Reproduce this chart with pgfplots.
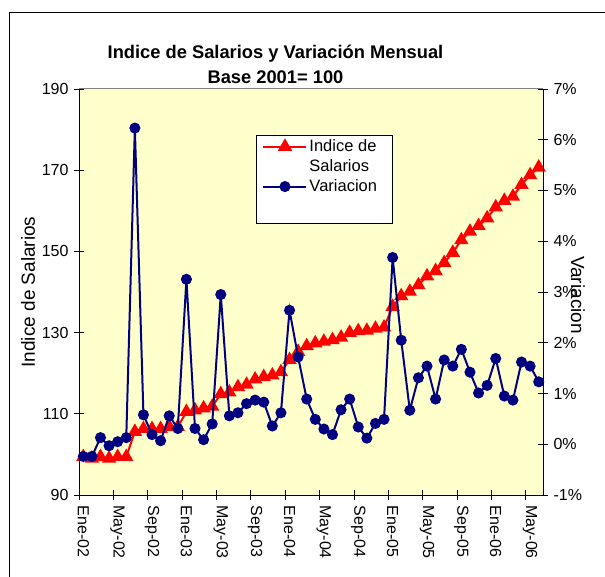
\documentclass[border=0pt]{standalone}
\usepackage{fontspec}
\setmainfont{Liberation Sans}
\usepackage{pgfplots}
\pgfplotsset{compat=1.18}
\definecolor{plotbg}{RGB}{255,255,204}
\definecolor{varblue}{RGB}{0,0,128}

\pgfplotstableread{
idx indice variacion
0  99.4 -0.24
1  99.0 -0.24
2  99.4  0.13
3  99.0 -0.03
4  99.4  0.05
5  99.4  0.13
6  105.6 6.23
7  106.3 0.58
8  106.3 0.19
9  106.3 0.07
10 106.8 0.56
11 106.8 0.31
12 110.5 3.25
13 110.9 0.31
14 111.4 0.09
15 111.8 0.40
16 114.9 2.95
17 115.3 0.56
18 116.6 0.62
19 117.2 0.80
20 118.5 0.87
21 119.1 0.83
22 119.5 0.36
23 120.3 0.62
24 123.3 2.64
25 125.3 1.72
26 126.7 0.89
27 127.4 0.49
28 127.8 0.30
29 128.2 0.19
30 128.8 0.68
31 130.0 0.89
32 130.4 0.34
33 130.5 0.12
34 131.0 0.41
35 131.3 0.49
36 136.4 3.68
37 139.0 2.05
38 140.1 0.67
39 141.7 1.31
40 143.9 1.54
41 145.2 0.89
42 147.2 1.66
43 149.7 1.54
44 152.8 1.87
45 154.9 1.42
46 156.3 1.01
47 158.2 1.16
48 160.9 1.69
49 162.5 0.95
50 163.5 0.87
51 166.4 1.62
52 168.8 1.54
53 170.7 1.23
}\salarios

\pgfplotsset{
  salaxis/.style={
    at={(79pt,81pt)}, anchor=south west, scale only axis,
    width=464pt, height=406pt,
    xmin=-0.5, xmax=53.5,
    tick align=center, major tick length=10pt,
    tick style={black, line width=0.8pt},
    tick label style={font=\fontsize{16}{19}\selectfont},
    /pgf/number format/assume math mode=true,
    axis line style={black, line width=1pt},
  }}

\begin{document}
\begin{tikzpicture}
\useasboundingbox (0,0) rectangle (605pt,576pt);
\fill[white] (0,0) rectangle (605pt,576pt);
\draw[black, line width=0.8pt] (9pt,-10pt) -- (9pt,564pt) -- (620pt,564pt);

\begin{axis}[
  salaxis,
  ymin=90, ymax=190,
  axis x line*=bottom, axis y line*=left,
  axis background/.style={fill=plotbg},
  ytick={90,110,130,150,170,190},
  yticklabel style={xshift=-2pt},
  xtick={0,4,...,52},
  xticklabels={Ene-02,May-02,Sep-02,Ene-03,May-03,Sep-03,Ene-04,May-04,Sep-04,Ene-05,May-05,Sep-05,Ene-06,May-06},
  major x tick style={draw=none},
  minor xtick={-0.5,3.5,...,51.5},
  minor tick length=10pt,
  minor x tick style={black, line width=0.8pt},
  xticklabel style={rotate=-90, anchor=west, xshift=2pt},
]
\draw[gray, line width=1pt] (rel axis cs:0,1) -- (rel axis cs:1,1);
\addplot[red, line width=2pt, mark=triangle*, mark size=6.3pt, mark options={solid, fill=red}]
  table[x=idx, y=indice] {\salarios};
\end{axis}

\begin{axis}[
  salaxis,
  ymin=-1, ymax=7,
  axis x line=none, axis y line*=right,
  ytick={-1,0,1,2,3,4,5,6,7},
  yticklabels={-1\%,0\%,1\%,2\%,3\%,4\%,5\%,6\%,7\%},
  yticklabel style={xshift=2pt},
  legend style={at={(0.395,0.88)}, anchor=north west, draw=none, fill=none,
    font=\fontsize{16.5}{19}\selectfont, inner xsep=0pt, inner ysep=0pt,
    row sep=2.5pt, /tikz/every even column/.append style={column sep=3pt}},
  legend cell align=left,
  legend image code/.code={\draw[#1, mark repeat=2, mark phase=2] plot coordinates {(0pt,0pt) (21.5pt,0pt) (43pt,0pt)};},
]
\addlegendimage{red, line width=2pt, mark=triangle*, mark size=6.3pt, mark options={solid, fill=red}}
\addlegendentry{Indice de}
\addlegendimage{empty legend}
\addlegendentry{Salarios}
\addplot[varblue, line width=2pt, mark=*, mark size=4.5pt, mark options={solid, fill=varblue}]
  table[x=idx, y=variacion] {\salarios};
\addlegendentry{Variacion}
\draw[black, line width=1pt, fill=white] (rel axis cs:0.3815,0.8867) rectangle (rel axis cs:0.6767,0.6675);
\end{axis}

\node[font=\fontsize{18.3}{25}\selectfont\bfseries, align=center] at (275.5pt,511.5pt)
  {Indice de Salarios y Variación Mensual\\Base 2001= 100};
\node[rotate=90, font=\fontsize{19}{22}\selectfont] at (28pt,284pt) {Indice de Salarios};
\node[rotate=-90, font=\fontsize{19}{22}\selectfont] at (578pt,281pt) {Variacion};
\end{tikzpicture}
\end{document}
